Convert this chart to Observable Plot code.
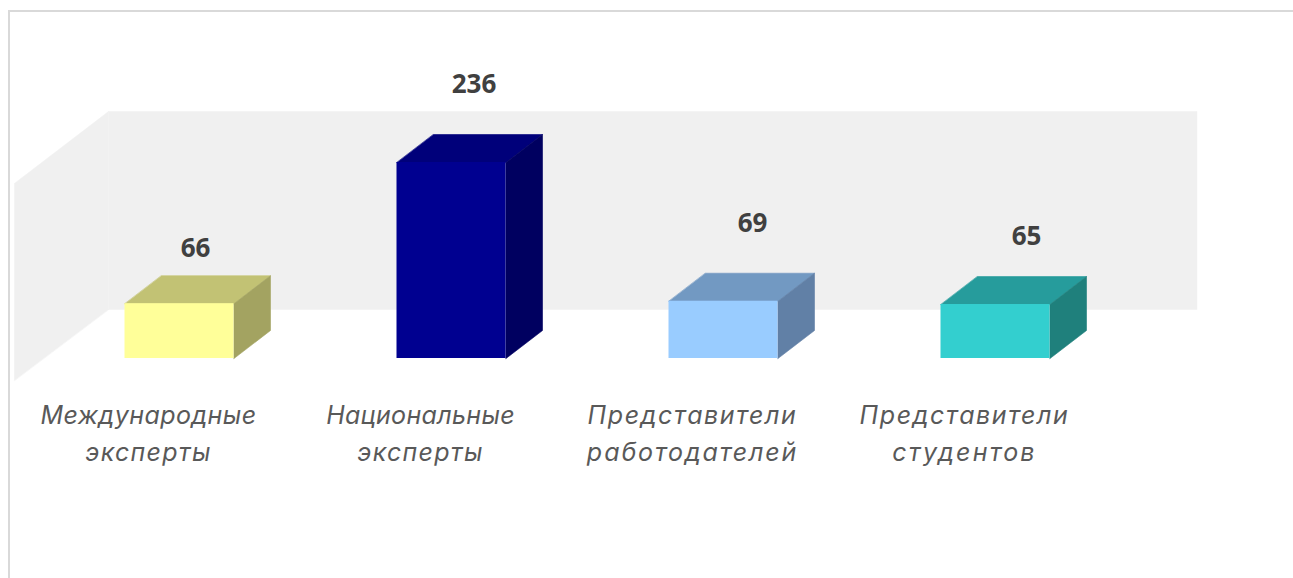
<!DOCTYPE html>
<html><head><meta charset="utf-8">
<script src="https://cdn.jsdelivr.net/npm/d3@7"></script>
<script src="https://cdn.jsdelivr.net/npm/@observablehq/plot@0.6"></script>
<style>
html,body{margin:0;padding:0;background:#fff;overflow:hidden;width:1293px;height:578px}
#frame{position:absolute;left:8px;top:10px;width:1400px;height:700px;border:2px solid #d9d9d9;box-sizing:border-box}
#chart{position:absolute;left:0;top:0}
svg{display:block}
</style></head><body>
<div id="frame"></div><div id="chart"></div>
<script>
const categories = ["Международные\nэксперты","Национальные\nэксперты","Представители\nработодателей","Представители\nстудентов"];
const values = [66,236,69,65];
const frontColors = ["#ffff99","#000090","#99ccff","#33cfcf"];
const topColors = ["#c2c274","#00007a","#7299c2","#269c9c"];
const sideColors = ["#a3a361","#000060","#6180a6","#1f807c"];

const wallColor = "#f0f0f0";
const halfBar = 54.5/272, depthX = 36.5/272, depthY = 28/0.8305;
const wall = {left:-0.261,right:3.741,front:-0.607,floorBack:59,top:297.4,floorFront:-26.5,frontTop:210.7};
const labelOffsets = [[16,-55],[22.5,-78],[29,-78],[31,-68]];
const lineSpacing = {"Международные":0.45,"Национальные":0.33,"Представители":1.6,"работодателей":1.85,"эксперты":1.25,"студентов":2.2};

const poly = (id,color,pts)=>pts.map(([x,y])=>({id,color,x,y}));
const walls = [
  ...poly("back",wallColor,[[wall.left,wall.floorBack],[wall.right,wall.floorBack],[wall.right,wall.top],[wall.left,wall.top]]),
  ...poly("side",wallColor,[[wall.left,wall.floorBack],[wall.left,wall.top],[wall.front,wall.frontTop],[wall.front,wall.floorFront]])
];
const faces = values.flatMap((v,i)=>{
  const l=i-halfBar,r=i+halfBar;
  return [
    ...poly("t"+i,topColors[i],[[l,v],[r,v],[r+depthX,v+depthY],[l+depthX,v+depthY]]),
    ...poly("s"+i,sideColors[i],[[r,0],[r+depthX,depthY],[r+depthX,v+depthY],[r,v]])
  ];
});
const fronts = values.map((v,i)=>({i,v,color:frontColors[i]}));
const valueMarks = values.map((v,i)=>Plot.text([{i,v}],{
  x:"i",y:"v",text:d=>String(d.v),dx:labelOffsets[i][0],dy:labelOffsets[i][1],
  fontFamily:"'Open Sans'",fontWeight:700,fontSize:26,fill:"#404040",textAnchor:"middle"}));

const chart = Plot.plot({
  width:1293,height:578,
  marginLeft:179,marginRight:298,marginTop:162,marginBottom:220,
  x:{type:"linear",domain:[0,3],axis:null},
  y:{type:"linear",domain:[0,236],axis:null},
  color:{type:"identity"},
  style:{background:"transparent"},
  marks:[
    Plot.line(walls,{x:"x",y:"y",z:"id",fill:"color",stroke:"color",strokeWidth:0.5,curve:"linear-closed"}),
    Plot.line(faces,{x:"x",y:"y",z:"id",fill:"color",stroke:"color",strokeWidth:0.6,curve:"linear-closed"}),
    Plot.rect(fronts,{x1:d=>d.i-halfBar,x2:d=>d.i+halfBar,y1:0,y2:"v",fill:"color"}),
    ...valueMarks,
    Plot.axisX([0,1,2,3],{anchor:"bottom",tickSize:0,tickPadding:40,dx:-31,
      tickFormat:i=>categories[i],fontFamily:"Inter",fontStyle:"italic",fontSize:25,lineHeight:1.46,
      fill:"#595959",textAnchor:"middle",lineAnchor:"top",label:null})
  ]
});
chart.querySelectorAll("tspan").forEach(t=>{
  const s=lineSpacing[t.textContent];
  if(s!==undefined) t.style.letterSpacing=s+"px";
});
document.getElementById("chart").appendChild(chart);
</script></body></html>
